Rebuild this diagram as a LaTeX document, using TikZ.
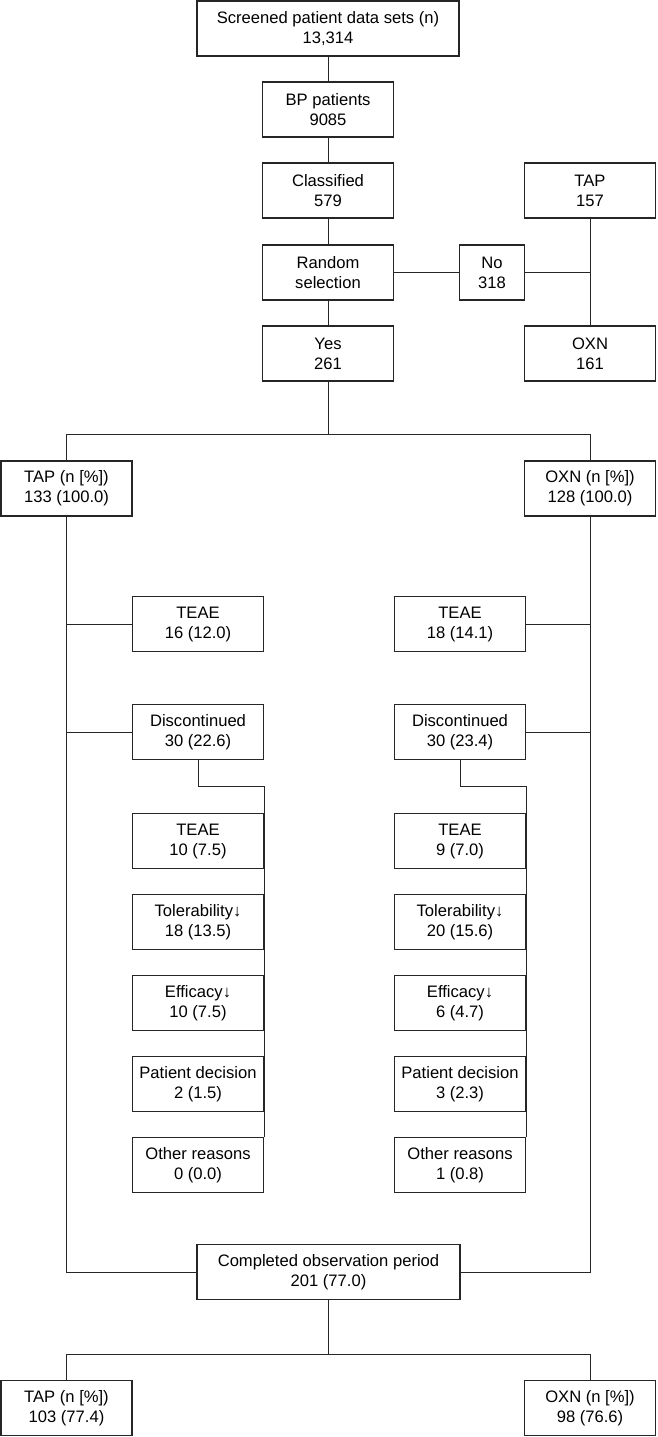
\documentclass[tikz,border=0pt]{standalone}
\usepackage{fontspec}
\setmainfont{Liberation Sans}
\begin{document}
\begin{tikzpicture}[x=1pt,y=-1pt,
  box/.style={draw=black!85,line width=1.1pt,fill=white,inner sep=0pt,minimum height=55pt,
    align=center,font=\fontsize{16.6}{20}\selectfont},
  sbox/.style={box,minimum width=131pt},
  wbox/.style={box,minimum width=262pt},
  link/.style={draw=black!85,line width=1pt}]
\useasboundingbox (0,0) rectangle (657,1437);
% top chain
\node[wbox] (scr) at (328,28.5) {Screened patient data sets (n)\\13,314};
\node[sbox] (bp) at (328,109.5) {BP patients\\9085};
\node[sbox] (cls) at (328,190.5) {Classified\\579};
\node[sbox] (tap157) at (590,190.5) {TAP\\157};
\node[sbox] (rnd) at (328,272.5) {Random\\selection};
\node[box,minimum width=65pt] (no) at (492,272.5) {No\\318};
\node[sbox] (yes) at (328,353.5) {Yes\\261};
\node[sbox] (oxn161) at (590,353.5) {OXN\\161};
% groups
\node[sbox] (tapall) at (66.5,488.5) {TAP (n [\%])\\133 (100.0)};
\node[sbox] (oxnall) at (590,488.5) {OXN (n [\%])\\128 (100.0)};
\node[sbox] (teaeL) at (198,624) {TEAE\\16 (12.0)};
\node[sbox] (teaeR) at (460,624) {TEAE\\18 (14.1)};
\node[sbox] (discL) at (198,732) {Discontinued\\30 (22.6)};
\node[sbox] (discR) at (460,732) {Discontinued\\30 (23.4)};
% reasons left
\node[sbox] (teaeL2) at (198,841) {TEAE\\10 (7.5)};
\node[sbox] (tolL) at (198,922) {Tolerability↓\\18 (13.5)};
\node[sbox] (effL) at (198,1003) {Efficacy↓\\10 (7.5)};
\node[sbox] (patL) at (198,1084) {Patient decision\\2 (1.5)};
\node[sbox] (othL) at (198,1165) {Other reasons\\0 (0.0)};
% reasons right
\node[sbox] (teaeR2) at (460,841) {TEAE\\9 (7.0)};
\node[sbox] (tolR) at (460,922) {Tolerability↓\\20 (15.6)};
\node[sbox] (effR) at (460,1003) {Efficacy↓\\6 (4.7)};
\node[sbox] (patR) at (460,1084) {Patient decision\\3 (2.3)};
\node[sbox] (othR) at (460,1165) {Other reasons\\1 (0.8)};
% completed
\node[box,minimum width=263pt] (comp) at (328.5,1272) {Completed observation period\\201 (77.0)};
\node[sbox] (tapfin) at (66.5,1408) {TAP (n [\%])\\103 (77.4)};
\node[sbox] (oxnfin) at (590,1408) {OXN (n [\%])\\98 (76.6)};
% coordinates
\coordinate (noJ) at (590,272.5);
\coordinate (splitC) at (328,434.7);
\coordinate (splitL) at (66.5,434.7);
\coordinate (splitR) at (590,434.7);
\coordinate (endC) at (328.5,1354);
\coordinate (endL) at (66.5,1354);
\coordinate (endR) at (590,1354);
% connectors
\draw[link] (scr.south) -- (bp.north);
\draw[link] (bp.south) -- (cls.north);
\draw[link] (cls.south) -- (rnd.north);
\draw[link] (rnd.south) -- (yes.north);
\draw[link] (rnd.east) -- (no.west);
\draw[link] (no.east) -- (noJ);
\draw[link] (tap157.south) -- (oxn161.north);
\draw[link] (yes.south) -- (splitC);
\draw[link] (tapall.north) -- (splitL) -- (splitR) -- (oxnall.north);
\draw[link] (tapall.south) |- (comp.west);
\draw[link] (oxnall.south) |- (comp.east);
\draw[link] (teaeL.west) -- (teaeL.west -| tapall.south);
\draw[link] (discL.west) -- (discL.west -| tapall.south);
\draw[link] (teaeR.east) -- (teaeR.east -| oxnall.south);
\draw[link] (discR.east) -- (discR.east -| oxnall.south);
\draw[link] (discL.south) -- ++(0,26) -| (othL.north east);
\draw[link] (discR.south) -- ++(0,26) -| (othR.north east);
\draw[link] (comp.south) -- (endC);
\draw[link] (tapfin.north) -- (endL) -- (endR) -- (oxnfin.north);
\end{tikzpicture}
\end{document}
